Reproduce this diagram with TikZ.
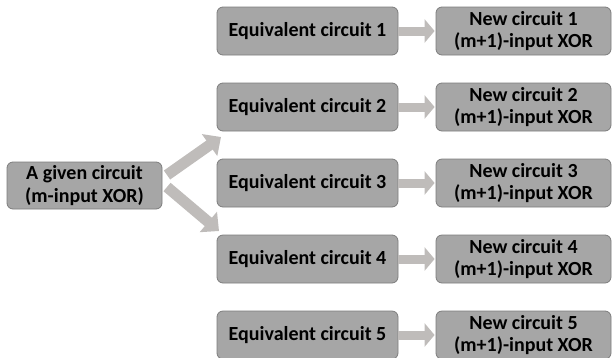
\documentclass[tikz,border=0pt]{standalone}
\usepackage{fontspec}
\setmainfont{Carlito}
\usetikzlibrary{arrows.meta}
\definecolor{boxfill}{RGB}{166,166,166}
\definecolor{boxline}{RGB}{125,125,125}
\definecolor{arrowgray}{RGB}{191,188,186}
\tikzset{
  box/.style={draw=boxline, line width=0.8pt, fill=boxfill, rounded corners=6pt,
    align=center, inner sep=0pt, font=\fontsize{20}{22.5}\selectfont\bfseries},
  eqbox/.style={box, minimum width=181pt, minimum height=48pt},
  newbox/.style={box, minimum width=175pt, minimum height=48pt},
  harrow/.style={draw=arrowgray, line width=9pt, -{Triangle[width=23pt,length=10pt]}},
  darrow/.style={draw=arrowgray, line width=11pt, -{Triangle[width=26pt,length=14pt]}}
}
\begin{document}
\begin{tikzpicture}[x=1pt,y=-1pt]
\useasboundingbox (0,0) rectangle (613,357);
\node[box, minimum width=155pt, minimum height=47pt] (g) at (84.5,185.5) {A given circuit\\(m-input XOR)};
\foreach \i/\y in {1/31,2/107,3/183,4/259,5/335}{
  \node[eqbox] (e\i) at (307.5,\y) {Equivalent circuit \i};
  \node[newbox] (n\i) at (523.5,\y) {New circuit \i\\(m+1)-input XOR};
  \draw[harrow] (e\i.east) -- ([xshift=-1pt]n\i.west);
}
\coordinate (ut) at (167,175);
\coordinate (uh) at (221,137);
\coordinate (lt) at (167,187);
\coordinate (lh) at (219,231);
\draw[darrow] (ut) -- (uh);
\draw[darrow] (lt) -- (lh);
\end{tikzpicture}
\end{document}
